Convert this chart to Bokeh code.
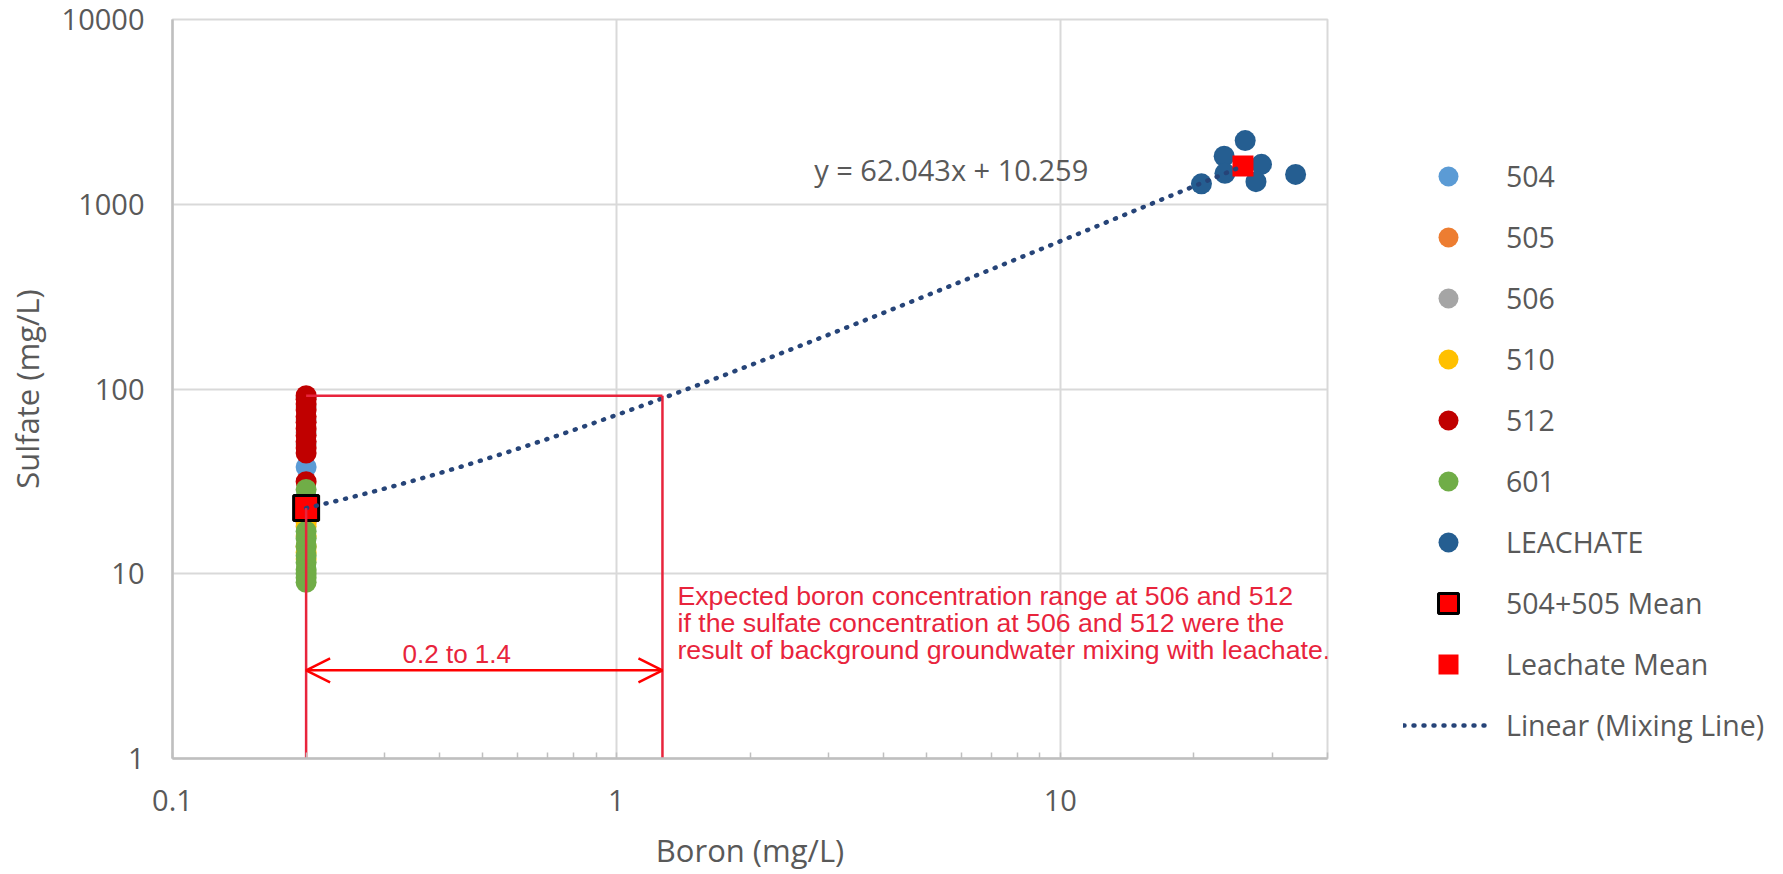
from bokeh.plotting import figure
from bokeh.models import Range1d, Legend, LegendItem, Arrow, OpenHead, CustomJSTickFormatter, Label
from bokeh.core.properties import value
from bokeh.embed import file_html
from bokeh.resources import INLINE
import numpy as np

# ---------------- data ----------------
boron_504 = [0.2, 0.2, 0.2, 0.2, 0.2, 0.2]
sulfate_504 = [37.8, 26, 24, 22, 20, 23]

boron_505 = [0.2, 0.2, 0.2, 0.2, 0.2]
sulfate_505 = [25, 23, 21, 19, 22]

boron_506 = [0.2, 0.2, 0.2, 0.2, 0.2]
sulfate_506 = [90, 80, 68, 58, 50]

boron_510 = [0.2, 0.2, 0.2, 0.2, 0.2, 0.2]
sulfate_510 = [19.5, 18, 16, 13, 12, 14]

boron_512 = [0.2, 0.2, 0.2, 0.2, 0.2, 0.2, 0.2, 0.2, 0.2, 0.2, 0.2, 0.2]
sulfate_512 = [92, 88, 83, 77, 71, 66, 61, 56, 52, 48, 45, 31.5]

boron_601 = [0.2, 0.2, 0.2, 0.2, 0.2, 0.2, 0.2, 0.2, 0.2, 0.2]
sulfate_601 = [28.6, 17, 15.5, 14, 12.5, 11.5, 10.5, 10, 9.5, 9]

boron_leachate = [26.1, 23.4, 23.5, 28.4, 27.6, 20.8, 33.9]
sulfate_leachate = [2210, 1820, 1470, 1645, 1325, 1290, 1450]

boron_bg_mean = [0.2]
sulfate_bg_mean = [22.67]
boron_leach_mean = [25.8]
sulfate_leach_mean = [1610]

# mixing line (linear trendline shown in the chart)
mix_slope = 62.043
mix_intercept = 10.259
mix_x_range = [0.2, 25.8]

# annotation values
range_low = 0.2
range_high = 1.27
sulfate_threshold = 92
arrow_level = 3.0

GRAY = "#595959"
CRIMSON = "#E8243C"

p = figure(x_axis_type="log", y_axis_type="log",
           x_range=Range1d(0.1, 40), y_range=Range1d(1, 10000),
           frame_width=1155, frame_height=739,
           min_border_left=172, min_border_right=436, min_border_top=19, min_border_bottom=10,
           output_backend="svg", toolbar_location=None,
           background_fill_color="white", border_fill_color="white")

p.outline_line_color = "#D9D9D9"
p.outline_line_width = 2
p.xgrid.grid_line_color = "#D9D9D9"
p.ygrid.grid_line_color = "#D9D9D9"
p.xgrid.grid_line_width = 2
p.ygrid.grid_line_width = 2

fmt = CustomJSTickFormatter(code="return String(parseFloat(tick.toPrecision(6)));")
for ax in (p.xaxis[0], p.yaxis[0]):
    ax.formatter = fmt
    ax.axis_line_color = "#BFBFBF"
    ax.axis_line_width = 2.5
    ax.major_tick_in = 0
    ax.major_tick_out = 0
    ax.major_label_text_font = "Open Sans"
    ax.major_label_text_font_size = "29px"
    ax.major_label_text_color = GRAY
    ax.axis_label_text_font = "Open Sans"
    ax.axis_label_text_font_size = "31px"
    ax.axis_label_text_font_style = "normal"
    ax.axis_label_text_color = GRAY

p.xaxis.axis_label = "Boron (mg/L)"
p.yaxis.axis_label = "Sulfate (mg/L)"
p.xaxis.minor_tick_in = 6
p.xaxis.minor_tick_out = 0
p.xaxis.minor_tick_line_color = "#BFBFBF"
p.xaxis.minor_tick_line_width = 1.5
p.yaxis.minor_tick_line_color = None
p.xaxis.major_label_standoff = 31
p.xaxis.axis_label_standoff = 15
p.yaxis.major_label_standoff = 24
p.yaxis.axis_label_standoff = 11

series = [
    ("504", boron_504, sulfate_504, "#5B9BD5"),
    ("505", boron_505, sulfate_505, "#ED7D31"),
    ("506", boron_506, sulfate_506, "#A5A5A5"),
    ("510", boron_510, sulfate_510, "#FFC000"),
    ("512", boron_512, sulfate_512, "#C00000"),
    ("601", boron_601, sulfate_601, "#70AD47"),
    ("LEACHATE", boron_leachate, sulfate_leachate, "#255E91"),
]
items = []
for name, xs, ys, col in series:
    r = p.scatter(xs, ys, marker="circle", size=21, fill_color=col, line_color=None)
    items.append(LegendItem(label=name, renderers=[r]))

r_bg = p.scatter(boron_bg_mean, sulfate_bg_mean, marker="square", size=25,
                 fill_color="#FF0000", line_color="black", line_width=3)
items.append(LegendItem(label="504+505 Mean", renderers=[r_bg]))
r_lm = p.scatter(boron_leach_mean, sulfate_leach_mean, marker="square", size=21,
                 fill_color="#FF0000", line_color=None)
items.append(LegendItem(label="Leachate Mean", renderers=[r_lm]))

mx = np.geomspace(mix_x_range[0], mix_x_range[1], 300)
my = mix_slope * mx + mix_intercept
r_mix = p.line(mx, my, line_color="#264478", line_width=4.5, line_dash="1 9",
               line_cap="round")
items.append(LegendItem(label="Linear (Mixing Line)", renderers=[r_mix]))

# red annotation lines
p.segment(x0=[range_low, range_high, range_low], y0=[1, 1, sulfate_threshold],
          x1=[range_low, range_high, range_high],
          y1=[sulfate_bg_mean[0], sulfate_threshold, sulfate_threshold],
          line_color=CRIMSON, line_width=2.5)

p.add_layout(Arrow(start=OpenHead(size=24, line_color="#FF0000", line_width=2.5),
                   end=OpenHead(size=24, line_color="#FF0000", line_width=2.5),
                   x_start=range_low, y_start=arrow_level, x_end=range_high, y_end=arrow_level,
                   line_color="#FF0000", line_width=2.5))

p.text(x=[0.437], y=[3.68], text=["0.2 to 1.4"], text_font=value("Liberation Sans"),
       text_font_size="26px", text_color=CRIMSON, text_align="center", text_baseline="middle")

p.add_layout(Label(x=range_high, y=5.38, x_offset=15,
                   text="Expected boron concentration range at 506 and 512\n"
                        "if the sulfate concentration at 506 and 512 were the\n"
                        "result of background groundwater mixing with leachate.",
                   text_font="Liberation Sans", text_font_size="26.7px",
                   text_color=CRIMSON, text_align="left", text_baseline="middle",
                   text_line_height=0.9))

p.text(x=[2.79], y=[1535], text=["y = 62.043x + 10.259"], text_font=value("Open Sans"),
       text_font_size="29px", text_color=GRAY, text_align="left", text_baseline="middle")

legend = Legend(items=items, location=(76, 8), orientation="vertical",
                glyph_width=90, glyph_height=50, label_height=50, spacing=11,
                padding=0, margin=0, label_standoff=13,
                border_line_color=None, background_fill_alpha=0,
                label_text_font="Open Sans", label_text_font_size="28.5px",
                label_text_color=GRAY)
p.add_layout(legend, "right")

open("out.html", "w").write(file_html(p, INLINE))
